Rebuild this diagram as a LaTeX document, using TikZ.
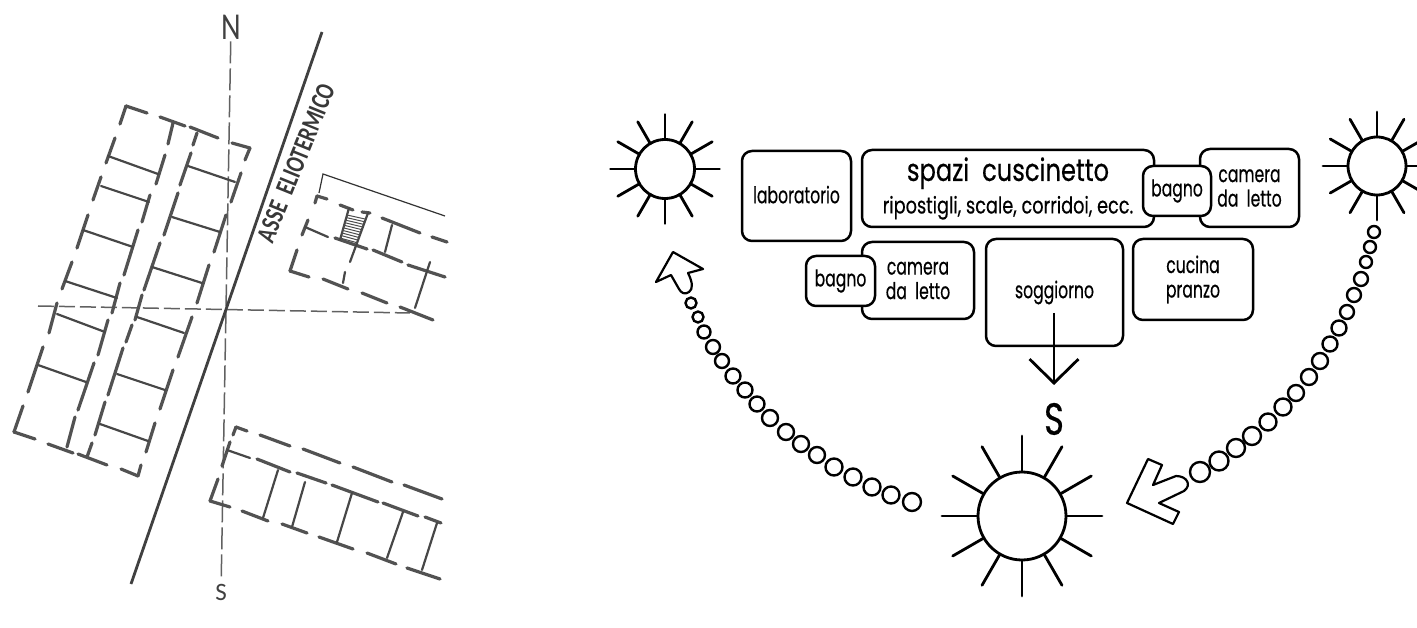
\documentclass[tikz,border=0pt]{standalone}
\usepackage{fontspec}
\setmainfont[FakeBold=0.5]{Poppins}
\newfontfamily\planfont{Carlito}
\newcommand{\squeeze}[2][0.68]{\scalebox{#1}[1]{#2}}
\usetikzlibrary{positioning,arrows.meta,calc}

\begin{document}
\begin{tikzpicture}[
  x=1pt,y=-1pt,
  room/.style={draw,fill=white,line width=2.5pt,rounded corners=10pt,inner sep=0pt,outer sep=0pt,
    align=center,font=\fontsize{23}{24.5}\selectfont},
  sun/.style={draw,circle,line width=2.8pt,inner sep=0pt,outer sep=0pt},
  ray/.style={line width=2.8pt,line cap=round},
  bead/.style={draw,line width=2.4pt},
  bigarrow/.style={draw,line width=2.2pt,line join=round},
  wall/.style={draw=black!68,line width=3.2pt,line cap=round},
  partition/.style={draw=black!72,line width=2.2pt,line cap=round},
  axisdash/.style={draw=black!62,line width=1.5pt}]
\clip (0,0) rectangle (1417,628);

% plan: axes
\node[inner sep=2pt,text=black!75,font=\planfont\fontsize{38}{38}\selectfont] (nlab) at (231,27) {\squeeze[0.8]{N}};
\node[inner sep=3pt,text=black!75,font=\planfont\fontsize{25}{25}\selectfont] (slab) at (221,592) {S};
\draw[axisdash,dash pattern=on 22pt off 5pt] (nlab) -- (slab);
\coordinate (west) at (38,306);
\coordinate (east) at (410,313);
\draw[axisdash,dash pattern=on 16pt off 5pt] (west) -- (east);
\coordinate (axtop) at (322,32);
\coordinate (axbot) at (131,584);
\draw[draw=black!75,line width=2.8pt] (axtop) -- (axbot);
\node[rotate=68,text=black!78,font=\planfont\bfseries\fontsize{27}{27}\selectfont] (axlabel) at (296,163) {\squeeze[0.76]{ASSE\ \ ELIOTERMICO}};

% plan: long block
\foreach \a/\b/\c/\d in {
  126/106/120/124,126/106/147/113,160/117/185/126,173/123/168/144,165/155/156/184,150/195/142/222,
  138/230/124/275,120/283/112/313,108/320/98/355,94/363/78/410,75/417/67/447,
  115/138/106/163,101/177/93/200,88/215/77/248,72/262/62/289,57/303/49/333,43/347/28/392,
  14/432/23/406,14/432/35/439,48/444/73/453,78/454/107/465,138/476/121/469,138/476/141/465,
  190/127/218/138,197/133/193/145,191/153/180/185,178/193/164/235,160/243/144/290,142/295/135/320,
  132/325/126/342,123/348/108/395,105/402/95/435,92/443/87/457,
  250/148/232/143,250/148/245/160,241/173/231/202,226/215/214/252,209/265/197/303,
  192/317/178/357,173/370/160/409,155/423/146/452}
  \draw[wall] (\a,\b) -- (\c,\d);
\foreach \a/\b/\c/\d in {
  108/156/158/174,101/186/149/202,83/230/133/247,65/281/117/298,57/314/105/332,38/365/86/382,
  188/166/235/182,172/217/220/232,152/267/202/283,137/317/184/333,117/374/165/390,100/424/148/441}
  \draw[partition] (\a,\b) -- (\c,\d);

% plan: block to the east
\coordinate (roofa) at (319,193);
\coordinate (roofb) at (323,174);
\coordinate (roofc) at (445,216);
\draw[draw=black!80,line width=1.2pt] (roofa) -- (roofb) -- (roofc);
\foreach \a/\b/\c/\d in {
  317/196/315/203,317/196/327/199,340/205/353/210,362/212/370/213,335/238/367/249,
  302/235/308/220,382/218/420/233,373/250/402/262,432/237/447/242,408/265/445/277,
  400/307/433/320,297/250/290/271,309/277/290/271,323/279/348/289,362/293/387/303}
  \draw[wall] (\a,\b) -- (\c,\d);
\foreach \a/\b/\c/\d in {
  349/208/340/240,368/213/350/262,305/227/328/237,392/225/385/252,430/262/415/308,345/272/343/283}
  \draw[partition] (\a,\b) -- (\c,\d);
\coordinate (stla) at (347,215);
\coordinate (stlb) at (340,238);
\coordinate (stra) at (365,219);
\coordinate (strb) at (358,243);
\foreach \i in {0,...,9}
  \draw[draw=black!70,line width=1pt] ($(stla)!\i/9!(stlb)$) -- ($(stra)!\i/9!(strb)$);

% plan: block to the south
\foreach \a/\b/\c/\d in {
  236/427/233/435,236/427/247/431,260/435/290/446,303/449/340/463,353/467/392/482,404/485/442/499,
  230/442/222/466,257/459/290/472,297/473/326/483,332/485/378/502,383/503/418/516,425/517/441/523,
  210/501/218/479,210/501/230/507,242/511/268/521,282/524/307/533,319/537/353/549,367/553/396/564,407/568/440/579}
  \draw[wall] (\a,\b) -- (\c,\d);
\foreach \a/\b/\c/\d in {
  227/450/250/458,278/470/263/518,305/482/292/527,352/493/337/542,403/512/387/558,437/523/422/570}
  \draw[partition] (\a,\b) -- (\c,\d);

% scheme: rooms
\node[room,anchor=north west,minimum width=109pt,minimum height=90pt] (lab) at (742,151) {\raisebox{3pt}{\squeeze{laboratorio}}};
\node[room,minimum width=292pt,minimum height=77pt,below right=-1pt and 11pt of lab.north east] (spazi)
  {\raisebox{-1pt}{\fontsize{31}{34}\selectfont\squeeze[0.78]{spazi\ \ cuscinetto}}\\[3pt]\raisebox{-6pt}{\fontsize{23}{26}\selectfont\squeeze[0.77]{ripostigli,\ scale,\ corridoi,\ ecc.}}};
\node[room,minimum width=99pt,minimum height=78pt,below right=-1pt and 46pt of spazi.north east] (camup) {\squeeze{camera}\\\squeeze{da\ \ letto}};
\node[room,minimum width=68pt,minimum height=50pt,below left=17pt and -11pt of camup.north west] (bagup) {\squeeze{bagno}};
\node[room,minimum width=112pt,minimum height=77pt,below right=15pt and 0pt of spazi.south west] (camdn) {\raisebox{-2pt}{\squeeze{camera}}\\\raisebox{-2pt}{\squeeze{da\ \ letto}}};
\node[room,minimum width=69pt,minimum height=50pt,below left=14pt and -13pt of camdn.north west] (bagdn) {\squeeze{bagno}};
\node[room,minimum width=137pt,minimum height=107pt,below right=-3pt and 12pt of camdn.north east] (sogg) {\raisebox{-2pt}{\squeeze{soggiorno}}};
\node[room,minimum width=120pt,minimum height=81pt,below right=0pt and 10pt of sogg.north east] (cuc) {\squeeze{cucina}\\\squeeze{pranzo}};

% scheme: way out to the south
\coordinate (stail) at (1054,313);
\node[minimum height=68pt,inner sep=0pt,outer sep=0pt,font=\fontsize{45}{45}\selectfont] (south) at (1054,419) {\squeeze[0.75]{S}};
\draw[line width=2.8pt,-{Straight Barb[length=24pt,width=49pt,line width=2.8pt]}] (stail) -- (south.north);

% scheme: suns
\node[sun,minimum size=59pt] (sunw) at (665,169) {};
\node[sun,minimum size=58pt] (sune) at (1377,166) {};
\node[sun,minimum size=88pt] (sunb) at (1022,516) {};
\foreach \s/\l in {sunw/25pt,sune/25pt,sunb/36pt}
  \foreach \ang in {0,30,...,330}
    \draw[ray] (\s.\ang) -- ++(\ang:\l);

% scheme: path of the sun
\foreach \x/\y/\r in {691/303/5.5,698/317/5.5,704/332/6.5,713/347/7,722/361/7,733/376/7.5,745/390/7.5,
  757/404/7.5,770/418/8,786/432/8,801/444/8,817/455/8,834/467/8.5,853/477/8.5,872/487/8.5,891/495/8.5,912/502/9}
  \draw[bead] (\x,\y) circle[radius=\r pt];
\foreach \x/\y/\r in {1374/232/6,1370/247/6,1366/262/6,1361/279/7,1354/295/7,1347/312/7,1339/328/7.5,1330/344/7.5,
  1320/361/8,1309/377/8,1296/393/8,1283/407/8.5,1268/422/8.5,1252/436/9,1236/448/9,1219/461/9.5,1200/472/10}
  \draw[bead] (\x,\y) circle[radius=\r pt];
\path[bigarrow] (673,252) -- (703,269) -- (688,273) .. controls (693,283) and (693,289) .. (689,292)
  .. controls (685,295) and (681,293) .. (679,289) -- (671,275) -- (656,282) -- cycle;
\path[bigarrow] (1127,503) -- (1148,459) -- (1162,465) -- (1153,485) -- (1176,476)
  .. controls (1187,476) and (1192,485) .. (1184,491) -- (1159,503) -- (1179,512) -- (1173,524) -- cycle;
\end{tikzpicture}
\end{document}
